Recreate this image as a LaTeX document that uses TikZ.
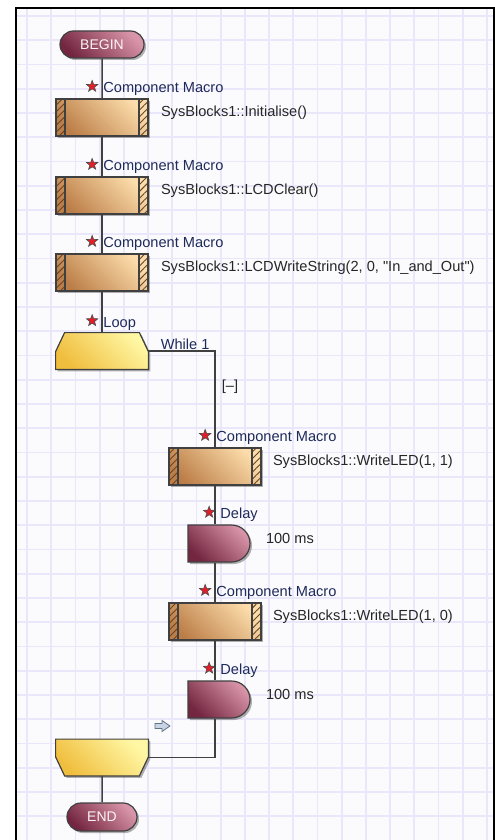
\documentclass[tikz,border=0pt]{standalone}
\usepackage{fontspec}
\setmainfont{Liberation Sans}
\newfontfamily\flowface{Liberation Sans}
\usepackage{tikz}
\usetikzlibrary{shapes,shapes.geometric,shapes.misc,arrows,positioning,calc,shadows,patterns.meta}

\definecolor{framebg}{RGB}{251,251,254}
\definecolor{gridlav}{RGB}{234,231,250}
\definecolor{flowline}{RGB}{64,64,64}
\definecolor{plumdark}{RGB}{116,38,64}
\definecolor{plumlight}{RGB}{216,148,168}
\definecolor{tandark}{RGB}{188,126,72}
\definecolor{tanlight}{RGB}{251,220,170}
\definecolor{tanhatch}{RGB}{104,68,38}
\definecolor{loopdark}{RGB}{240,190,62}
\definecolor{looplight}{RGB}{255,247,164}
\definecolor{labelnavy}{RGB}{30,42,90}
\definecolor{starred}{RGB}{226,30,40}
\definecolor{arrowfill}{RGB}{200,212,228}
\definecolor{arrowedge}{RGB}{100,114,134}

\newcommand{\flowfont}{\flowface\fontsize{7.3}{8.5}\selectfont}

\tikzset{
  gridline/.style={draw=gridlav, line width=0.9pt},
  flow/.style={draw=flowline, line width=0.75pt},
  flowshadow/.style={drop shadow={shadow xshift=1pt, shadow yshift=-1pt, fill=black, opacity=0.3}},
  terminal/.style={rounded rectangle, draw=black!75, line width=0.6pt,
    top color=plumlight, bottom color=plumdark, shading angle=-45,
    text=white!90!plumlight, font=\flowface\fontsize{7}{8}\selectfont, inner sep=0pt, flowshadow},
  macrobox/.style={rectangle, draw=black!75, line width=0.6pt,
    minimum width=46pt, minimum height=18.5pt, inner sep=0pt,
    top color=tanlight, bottom color=tandark, shading angle=-45, flowshadow,
    path picture={
      \path[pattern={Lines[angle=45,distance=2.4pt,line width=0.45pt]}, pattern color=tanhatch]
        (path picture bounding box.south west) rectangle ([xshift=4.5pt]path picture bounding box.north west)
        (path picture bounding box.south east) rectangle ([xshift=-4.5pt]path picture bounding box.north east);
      \draw[black!75, line width=0.6pt]
        ([xshift=4.5pt]path picture bounding box.south west) -- ([xshift=4.5pt]path picture bounding box.north west)
        ([xshift=-4.5pt]path picture bounding box.south east) -- ([xshift=-4.5pt]path picture bounding box.north east);
    }},
  delaybox/.style={rounded rectangle, rounded rectangle west arc=none, draw=black!75, line width=0.6pt,
    minimum width=31pt, minimum height=18.5pt, inner sep=0pt,
    top color=plumlight, bottom color=plumdark, shading angle=-45, flowshadow},
  loopspot/.style={rectangle, minimum width=46pt, minimum height=18pt, inner sep=0pt},
  loopfill/.style={draw=black!75, line width=0.6pt,
    top color=looplight, bottom color=loopdark, shading angle=-45, flowshadow},
  redstar/.style={star, star points=5, star point ratio=2.4, minimum size=6pt, inner sep=0pt,
    fill=starred, draw=black!70, line width=0.3pt},
  tag/.style={font=\flowfont, text=labelnavy, inner sep=0pt},
  stmt/.style={font=\flowfont, text=black!85, inner sep=0pt}
}

\begin{document}
\begin{tikzpicture}[x=0.5pt, y=-0.5pt]
  \useasboundingbox (0,0) rectangle (494,840);
  % canvas and grid
  \fill[white] (0,0) rectangle (494,840);
  \fill[framebg] (16,8) rectangle (494,840);
  \begin{scope}
    \clip (16,8) rectangle (494,840);
    \foreach \gx in {0,...,19}
      \draw[gridline] ({27+24.2*\gx},8) -- ({27+24.2*\gx},840);
    \foreach \gy in {0,...,34}
      \draw[gridline] (16,{16+24.25*\gy}) -- (494,{16+24.25*\gy});
  \end{scope}
  \draw[black, line width=1pt] (16,840) -- (16,8) -- (493.5,8) -- (493.5,840);

  % main column
  \node[terminal, minimum width=42pt, minimum height=13.5pt] (begin) at (102,44.5) {BEGIN};
  \node[macrobox] (m1) at (102,117.5) {};
  \node[macrobox] (m2) at (102,195.5) {};
  \node[macrobox] (m3) at (102,272.5) {};
  \node[loopspot] (loopA) at (102,351) {};
  \node[loopspot] (loopB) at (102,757.5) {};
  \node[terminal, minimum width=35pt, minimum height=14pt] (end) at (102,817) {END};

  % loop start / loop end outlines
  \path[loopfill] ([xshift=4.5pt]loopA.north west) -- ([xshift=-4.5pt]loopA.north east)
    -- ([yshift=-9.5pt]loopA.north east) -- (loopA.south east) -- (loopA.south west)
    -- ([yshift=-9.5pt]loopA.north west) -- cycle;
  \path[loopfill] (loopB.north west) -- (loopB.north east) -- ([yshift=9.5pt]loopB.south east)
    -- ([xshift=-4.5pt]loopB.south east) -- ([xshift=4.5pt]loopB.south west)
    -- ([yshift=9.5pt]loopB.south west) -- cycle;

  % loop body
  \node[macrobox] (m4) at (215,466.5) {};
  \node[delaybox] (d1) at (219,543.5) {};
  \node[macrobox] (m5) at (215,621.5) {};
  \node[delaybox] (d2) at (219,699.5) {};

  % icon labels
  \foreach \blk/\txt in {m1/Component Macro, m2/Component Macro, m3/Component Macro,
      loopA/Loop, m4/Component Macro, d1/Delay, m5/Component Macro, d2/Delay} {
    \node[tag, anchor=south west, above right=1pt and 0.5pt of \blk.north] (\blk tag) {\txt};
    \node[redstar, left=3.5pt of \blk tag.west, yshift=1.5pt] (\blk star) {};
  }

  % statements
  \node[stmt, right=6pt of m1, yshift=2.5pt] (m1txt) {SysBlocks1::Initialise()};
  \node[stmt, right=6pt of m2, yshift=2.5pt] (m2txt) {SysBlocks1::LCDClear()};
  \node[stmt, right=6pt of m3, yshift=2.5pt] (m3txt) {SysBlocks1::LCDWriteString(2, 0, "In\_and\_Out")};
  \node[stmt, right=5.5pt of m4, yshift=2.5pt] (m4txt) {SysBlocks1::WriteLED(1, 1)};
  \node[stmt, right=7.5pt of d1, yshift=2.5pt] (d1txt) {100 ms};
  \node[stmt, right=5.5pt of m5, yshift=2.5pt] (m5txt) {SysBlocks1::WriteLED(1, 0)};
  \node[stmt, right=7.5pt of d2, yshift=2.5pt] (d2txt) {100 ms};
  \node[tag, anchor=south west, above right=0.5pt and 6pt of loopA.east] (whiletxt) {While 1};
  \node[stmt] (looptoggle) at (230,387) {[\textendash]};

  % connectors
  \draw[flow] (begin) -- (m1);
  \draw[flow] (m1) -- (m2);
  \draw[flow] (m2) -- (m3);
  \draw[flow] (m3) -- (loopA);
  \draw[flow] (loopA.east) -| (m4.north);
  \draw[flow] (m4.south) -- (m4.south |- d1.north);
  \draw[flow] (m4.south |- d1.south) -- (m5.north);
  \draw[flow] (m5.south) -- (m5.south |- d2.north);
  \draw[flow] (m5.south |- d2.south) |- (loopB.east);
  \draw[flow] (loopB) -- (end);

  % exit marker
  \filldraw[fill=arrowfill, draw=arrowedge, line width=0.4pt]
    (155,723.5) -- (162,723.5) -- (162,720.5) -- (170,726) -- (162,731.5) -- (162,728.5) -- (155,728.5) -- cycle;
\end{tikzpicture}
\end{document}
